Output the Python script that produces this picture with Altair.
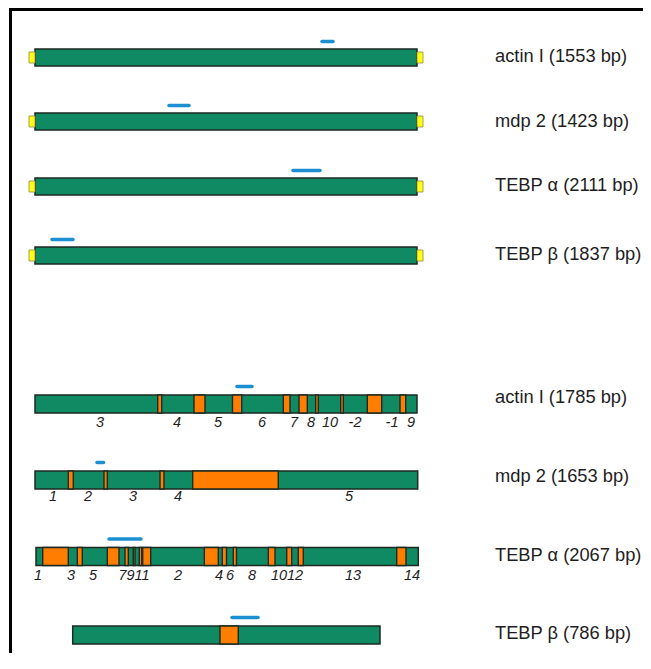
import altair as alt
import pandas as pd

# ---- diagram extent (x along the schematic, y down the page) ----
X_DOMAIN = [8, 643]
Y_DOMAIN = [8, 653]

# ---- upper group: four genes with yellow telomere caps ----
top_genes = ["actin I (1553 bp)", "mdp 2 (1423 bp)", "TEBP α (2111 bp)", "TEBP β (1837 bp)"]
top_center = [57.5, 121.5, 186.5, 255.5]
top_start = [35, 35, 35, 35]
top_end = [417, 417, 417, 417]
top_probe_start = [322, 169, 293, 52]
top_probe_end = [333, 189, 320, 73]
top_label_y = [57, 122, 186, 255]

# ---- lower group: four genes with orange segments ----
bottom_genes = ["actin I (1785 bp)", "mdp 2 (1653 bp)", "TEBP α (2067 bp)", "TEBP β (786 bp)"]
bottom_center = [404, 480, 556.5, 635]
bottom_start = [35, 35, 36, 72.7]
bottom_end = [417, 417.7, 418.3, 380]
bottom_probe_start = [237, 97, 109, 232]
bottom_probe_end = [252, 103.5, 141, 258]
bottom_label_y = [398, 477, 556, 634]

orange_start = [
    [157.7, 194, 232.5, 283.3, 299, 315.7, 340.7, 367.3, 400],
    [68.3, 104, 160, 192.7],
    [42.7, 77.3, 107.3, 125, 133.3, 139.3, 142.7, 204.3, 222.3, 233.3, 268.3, 286.7, 298.3, 396.7],
    [220],
]
orange_end = [
    [161.7, 205, 241.7, 290, 307.3, 318.3, 343.3, 381.7, 405.7],
    [73.3, 107.3, 164, 278.3],
    [68.3, 82.3, 119, 128.3, 135, 141.7, 150.7, 218.3, 226.5, 236.5, 275, 291.7, 303.3, 406],
    [238.3],
]

segment_text = [
    ["3", "4", "5", "6", "7", "8", "10", "-2", "-1", "9"],
    ["1", "2", "3", "4", "5"],
    ["1", "3", "5", "7911", "2", "4", "6", "8", "1012", "13", "14"],
    [],
]
segment_x = [
    [100, 177, 218, 262, 294, 311, 330, 355, 392, 411],
    [53, 88, 133, 178, 349],
    [38, 71, 93, 134, 178, 219, 230, 252, 287, 353, 412],
    [],
]
segment_y = [423, 497, 576, 0]

GREEN = "#0f8a62"
ORANGE = "#ff7d00"
YELLOW = "#ffff1a"
BLUE = "#1c8ed2"
EDGE = "#1c2a22"

# ---- build tables ----
bars, caps, oranges, probes, labels, nums = [], [], [], [], [], []
for i, g in enumerate(top_genes):
    c = top_center[i]
    bars.append(dict(x=top_start[i], x2=top_end[i], y=c - 8.5, y2=c + 8.5))
    caps.append(dict(x=top_start[i] - 6, x2=top_start[i], y=c - 5.5, y2=c + 5.5))
    caps.append(dict(x=top_end[i], x2=top_end[i] + 6, y=c - 5.5, y2=c + 5.5))
    probes.append(dict(x=top_probe_start[i], x2=top_probe_end[i], y=c - 16))
    labels.append(dict(x=495, y=top_label_y[i], t=g))

for i, g in enumerate(bottom_genes):
    c = bottom_center[i]
    bars.append(dict(x=bottom_start[i], x2=bottom_end[i], y=c - 9, y2=c + 9))
    for s, e in zip(orange_start[i], orange_end[i]):
        oranges.append(dict(x=s, x2=e, y=c - 9, y2=c + 9))
    probes.append(dict(x=bottom_probe_start[i], x2=bottom_probe_end[i], y=c - 17.5))
    labels.append(dict(x=495, y=bottom_label_y[i], t=g))
    for t, x in zip(segment_text[i], segment_x[i]):
        nums.append(dict(x=x, y=segment_y[i], t=t))

frame = pd.DataFrame([
    dict(x=9, x2=643, y=9.5, y2=9.5),
    dict(x=10.5, x2=10.5, y=8, y2=653),
])

xs = alt.Scale(domain=X_DOMAIN, nice=False, zero=False)
ys = alt.Scale(domain=Y_DOMAIN, nice=False, zero=False, reverse=True)


def X(f="x"):
    return alt.X(f + ":Q", scale=xs, axis=None)


def Y(f="y"):
    return alt.Y(f + ":Q", scale=ys, axis=None)


rect_enc = dict(x=X(), x2="x2:Q", y=Y(), y2="y2:Q")

frame_layer = alt.Chart(frame).mark_rule(color="black", strokeWidth=3).encode(**rect_enc)

bar_layer = alt.Chart(pd.DataFrame(bars)).mark_rect(
    fill=GREEN, stroke=EDGE, strokeWidth=1.5
).encode(**rect_enc)

cap_layer = alt.Chart(pd.DataFrame(caps)).mark_rect(
    fill=YELLOW, stroke="#8a8a3a", strokeWidth=0.8
).encode(**rect_enc)

orange_layer = alt.Chart(pd.DataFrame(oranges)).mark_rect(
    fill=ORANGE, stroke=EDGE, strokeWidth=1.4
).encode(**rect_enc)

probe_layer = alt.Chart(pd.DataFrame(probes)).mark_rule(
    color=BLUE, strokeWidth=3.5, strokeCap="round"
).encode(x=X(), x2="x2:Q", y=Y())

label_layer = alt.Chart(pd.DataFrame(labels)).mark_text(
    align="left", baseline="middle", font="Liberation Sans", fontSize=18.3, color="#1e1e1e"
).encode(x=X(), y=Y(), text="t:N")

num_layer = alt.Chart(pd.DataFrame(nums)).mark_text(
    align="center", baseline="middle", font="Liberation Sans", fontSize=14.5,
    fontStyle="italic", color="#1e1e1e"
).encode(x=X(), y=Y(), text="t:N")

chart = alt.layer(
    frame_layer, bar_layer, cap_layer, orange_layer, probe_layer, label_layer, num_layer
).properties(
    width=635, height=645, padding=0, autosize=alt.AutoSizeParams(type="none"),
    background="white",
).configure_view(stroke=None)

chart.save("out.html", embed_options={"renderer": "svg", "actions": False})
